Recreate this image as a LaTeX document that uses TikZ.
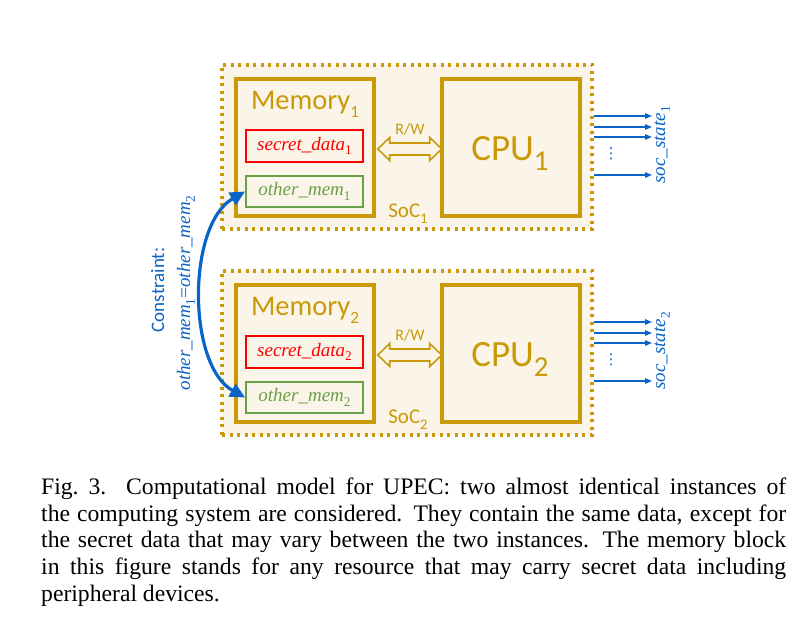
\documentclass[tikz,border=0pt]{standalone}
\usepackage{fontspec}
\setmainfont{Liberation Serif}
\newfontfamily\carl{Carlito}
\newfontfamily\djv{DejaVu Sans}
\usetikzlibrary{arrows.meta,calc}
\makeatletter
\newcommand\mysub[2][0.6]{\raisebox{-0.25em}{\fontsize{\the\dimexpr #1\dimexpr\f@size pt\relax\relax}{0pt}\selectfont #2}}
\makeatother
\definecolor{gold}{RGB}{201,153,8}
\definecolor{cream}{RGB}{250,245,232}
\definecolor{mred}{RGB}{255,0,0}
\definecolor{mgreen}{RGB}{106,160,70}
\definecolor{cblue}{RGB}{10,100,200}
\tikzset{
  socbox/.style={draw=gold, fill=cream, line width=3.2pt, dash pattern=on 3pt off 4.5pt,
    minimum width=370pt, minimum height=164pt, inner sep=0pt},
  membox/.style={draw=gold, line width=3.5pt, minimum width=138pt, minimum height=137pt, inner sep=0pt},
  databox/.style={line width=1.8pt, minimum width=117pt, inner sep=0pt,
    font=\fontsize{19}{19}\selectfont\itshape},
  seclbl/.style={databox, draw=mred, text=mred, minimum height=32pt},
  othlbl/.style={databox, draw=mgreen, text=mgreen, minimum height=31pt},
  goldtxt/.style={text=gold, inner sep=0pt, anchor=base},
  rwarrow/.style={draw=gold, fill=cream, line width=1.6pt, line join=miter},
  outarr/.style={draw=cblue, line width=1.4pt, -{Triangle[length=7pt,width=5.5pt]}},
  bluetxt/.style={text=cblue, inner sep=0pt, anchor=base, rotate=90},
  constr/.style={draw=cblue, line width=3.2pt,
    {Triangle[length=15pt,width=14pt]}-{Triangle[length=15pt,width=14pt]}}
}
\begin{document}
\begin{tikzpicture}[x=1pt,y=-1pt]
\useasboundingbox (0,0) rectangle (809,617);
\foreach \i/\dy in {1/0,2/206}{
  \node[socbox] (soc\i) at (407,147+\dy) {};
  \node[membox] (mem\i) at (305,147.5+\dy) {};
  \node[membox] (cpu\i) at (511,147.5+\dy) {};
  \node[seclbl] (sec\i) at (304.5,146+\dy) {secret\_data\mysub[0.7]{\upshape\i}};
  \node[othlbl] (oth\i) at (304.5,191.5+\dy) {other\_mem\mysub[0.7]{\upshape\i}};
  \node[goldtxt, font=\carl\fontsize{28.5}{28.5}\selectfont] (memlbl\i) at (305,110+\dy) {Memory\mysub{\i}};
  \node[goldtxt, font=\carl\fontsize{37}{37}\selectfont] (cpulbl\i) at (510,161+\dy) {CPU\mysub[0.78]{\i}};
  \node[goldtxt, font=\carl\fontsize{21}{21}\selectfont] (soclbl\i) at (408,218+\dy) {SoC\mysub[0.7]{\i}};
  \node[goldtxt, font=\carl\fontsize{16}{16}\selectfont] (rw\i) at (410,135+\dy) {R/W};
  \coordinate (rwL\i) at ($(mem\i.east)+(2,1.5)$);
  \draw[rwarrow] (rwL\i) -- ++(12,-11.5) -- ++(0,5.5) -- ++(40,0) -- ++(0,-5.5) -- ++(12,11.5)
     -- ++(-12,11.5) -- ++(0,-5.5) -- ++(-40,0) -- ++(0,5.5) -- cycle;
  \coordinate (o\i a) at (652,116+\dy);
  \coordinate (o\i b) at (652,127+\dy);
  \coordinate (o\i c) at (652,137+\dy);
  \coordinate (o\i d) at (652,175+\dy);
  \foreach \k in {a,b,c,d}{\draw[outarr] (soc\i.east |- o\i\k) -- (o\i\k);}
  \node[text=cblue, inner sep=0pt, font=\djv\fontsize{15}{15}\selectfont] (dots\i) at (611,154+\dy) {⋮};
  \node[bluetxt, font=\fontsize{19}{19}\selectfont\itshape] (state\i) at (665,145+\dy) {soc\_state\mysub[0.7]{\upshape\i}};
}
\node[bluetxt, font=\carl\fontsize{19}{19}\selectfont] (cons) at (164,290) {Constraint:};
\node[bluetxt, font=\fontsize{19}{19}\selectfont\itshape] (eq) at (190,293) {other\_mem\mysub[0.7]{\upshape 1}\textup{=}other\_mem\mysub[0.7]{\upshape 2}};
\draw[constr] (oth1.west) .. controls (187,225) and (187,365) .. (oth2.west);
\node[anchor=north west, inner sep=0pt, text width=745pt, align=justify,
  font=\fontsize{23.65}{26.7}\selectfont] (cap) at (41,477.5)
  {Fig.~3.~~Computational model for UPEC: two almost identical instances of\linebreak
   the computing system are considered. They contain the same data, except for\linebreak
   the secret data that may vary between the two instances. The memory block\linebreak
   in this figure stands for any resource that may carry secret data including\linebreak
   peripheral devices.};
\end{tikzpicture}
\end{document}
